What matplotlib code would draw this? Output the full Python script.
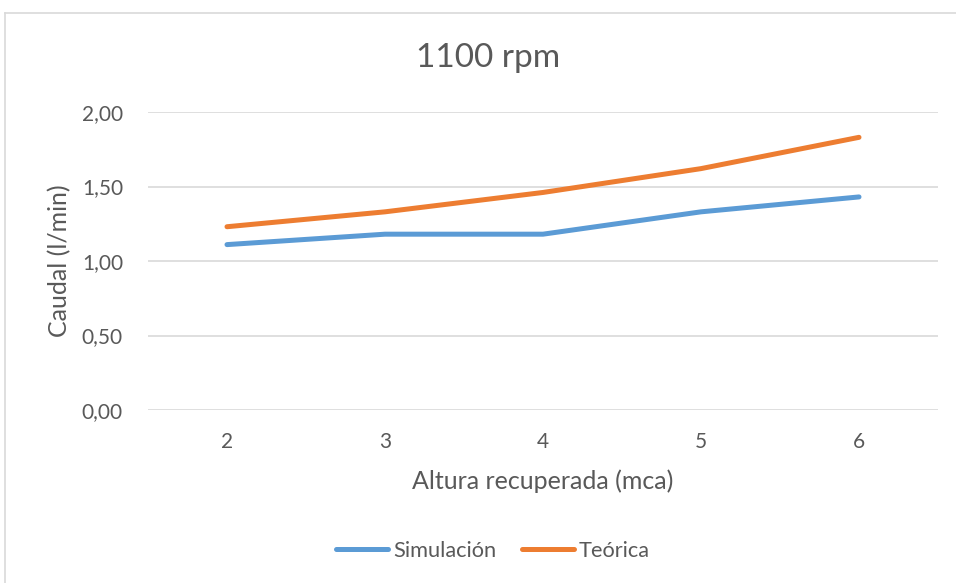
import matplotlib
matplotlib.use("Agg")
import matplotlib.pyplot as plt
from matplotlib.lines import Line2D

plt.rcParams['font.family'] = ['Lato', 'DejaVu Sans']

x_vals = [2, 3, 4, 5, 6]
simulacion = [1.11, 1.18, 1.18, 1.33, 1.43]
teorica = [1.23, 1.33, 1.46, 1.62, 1.83]
y_ticks = [0.0, 0.5, 1.0, 1.5, 2.0]
y_tick_labels = ["0,00", "0,50", "1,00", "1,50", "2,00"]

text_color = "#595959"
grid_color = "#D9D9D9"
blue = "#5B9BD5"
orange = "#ED7D31"

W, H = 956, 583
fig = plt.figure(figsize=(W / 100, H / 100), dpi=100)
ax = fig.add_axes([148 / W, (H - 410) / H, (938 - 148) / W, (410 - 112) / H])

ax.plot(x_vals, simulacion, color=blue, lw=3.6, solid_capstyle='round',
        solid_joinstyle='round', label="Simulación", zorder=3)
ax.plot(x_vals, teorica, color=orange, lw=3.6, solid_capstyle='round',
        solid_joinstyle='round', label="Teórica", zorder=3)

ax.set_xlim(1.5, 6.5)
ax.set_ylim(0, 2)
ax.set_xticks(x_vals)
ax.set_xticklabels([str(v) for v in x_vals])
ax.set_yticks(y_ticks)
ax.set_yticklabels(y_tick_labels)
ax.grid(axis='y', color=grid_color, lw=1.2)
ax.set_axisbelow(True)
for s in ax.spines.values():
    s.set_visible(False)
ax.tick_params(length=0, labelsize=15, colors=text_color)
ax.tick_params(axis='x', pad=16)
ax.tick_params(axis='y', pad=18)

fig.text(543 / W, 1 - 481 / H, "Altura recuperada (mca)", ha='center',
         va='center', fontsize=18, color=text_color)
fig.text(60 / W, 1 - 261 / H, "Caudal (l/min)", ha='center', va='center',
         rotation=90, fontsize=18, color=text_color)

fig.text(488 / W, 1 - 58 / H, "1100 rpm", ha='center', va='center',
         fontsize=24, color=text_color)

handles = [Line2D([0], [0], color=blue, lw=3.6, solid_capstyle='round'),
           Line2D([0], [0], color=orange, lw=3.6, solid_capstyle='round')]
fig.legend(handles, ["Simulación", "Teórica"], loc='center',
           bbox_to_anchor=(493 / W, 1 - 551 / H), ncol=2, frameon=False,
           fontsize=15.7, labelcolor=text_color, handlelength=2.4,
           handletextpad=0.2, columnspacing=1.2, borderpad=0.2)

# outer chart border
fig.add_artist(Line2D([4.5 / W, 4.5 / W], [0, 1 - 13 / H], color=grid_color,
                      lw=1.2, transform=fig.transFigure))
fig.add_artist(Line2D([4.5 / W, 1], [1 - 13 / H, 1 - 13 / H], color=grid_color,
                      lw=1.2, transform=fig.transFigure))

fig.savefig("out.png", dpi=100)
